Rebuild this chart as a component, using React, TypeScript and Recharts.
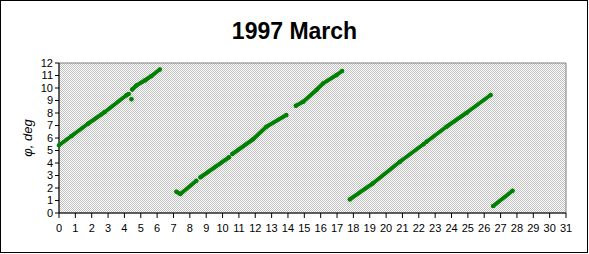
import React from 'react';
import { ScatterChart, Scatter, XAxis, YAxis, ReferenceArea } from 'recharts';

// day of month vs. phase angle (each run is a dense trail of samples)
const run1: [number, number][] = [[0, 5.42], [0.76, 6.16], [1.77, 7.14], [2.8, 8.08], [4.12, 9.42], [4.26, 9.52]];
const stray: [number, number][] = [[4.43, 9.1]];
const run2: [number, number][] = [[4.47, 9.88], [4.73, 10.2], [5.24, 10.6], [5.65, 10.96], [6.16, 11.48]];
const run3a: [number, number][] = [[7.18, 1.7], [7.42, 1.52], [8.4, 2.58]];
const run3b: [number, number][] = [[8.65, 2.86], [10.4, 4.46]];
const run3c: [number, number][] = [[10.6, 4.72], [11.87, 5.9], [12.68, 6.9], [13.9, 7.84]];
const run4: [number, number][] = [[14.48, 8.58], [14.93, 8.9], [15.74, 9.84], [16.15, 10.37], [16.97, 11.04], [17.31, 11.36]];
const run5a: [number, number][] = [[17.78, 1.09], [19.2, 2.38], [20.84, 4.1], [22.3, 5.52]];
const run5b: [number, number][] = [[22.47, 5.7], [23.69, 6.9], [24.92, 8.02], [26.39, 9.44]];
const run6: [number, number][] = [[26.55, 0.56], [27.73, 1.78]];

const runs = [run1, stray, run2, run3a, run3b, run3c, run4, run5a, run5b, run6];

const dayTicks = [0, 1, 2, 3, 4, 5, 6, 7, 8, 9, 10, 11, 12, 13, 14, 15, 16, 17, 18, 19, 20, 21, 22, 23, 24, 25, 26, 27, 28, 29, 30, 31];
const phiTicks = [0, 1, 2, 3, 4, 5, 6, 7, 8, 9, 10, 11, 12];

const GREEN = '#008000';
const FONT = '"Liberation Sans", Arial, sans-serif';

const Dot = (props: any) => <circle cx={props.cx} cy={props.cy} r={2.2} fill={GREEN} />;

export default function App() {
  return (
    <div style={{ position: 'absolute', left: 0, top: 0, width: 589, height: 254, background: '#fff' }}>
      <div
        style={{
          position: 'absolute', left: 0, top: 0, width: 588, height: 253,
          border: '1px solid #000', boxSizing: 'border-box'
        }}
      />
      <div
        style={{
          position: 'absolute', left: 0, top: 16, width: 589, textAlign: 'center',
          fontFamily: FONT, fontWeight: 'bold', fontSize: 23, lineHeight: '30px', color: '#000'
        }}
      >
        1997 March
      </div>
      <ScatterChart width={589} height={254} margin={{ top: 63, right: 23, left: 0, bottom: 21 }}>
        <defs>
          <pattern id="checker" width="2" height="2" patternUnits="userSpaceOnUse">
            <rect width="2" height="2" fill="#fff" />
            <rect width="1" height="1" fill="#c0c0c0" />
            <rect x="1" y="1" width="1" height="1" fill="#c0c0c0" />
          </pattern>
        </defs>
        <ReferenceArea x1={0} x2={31} y1={0} y2={12} fill="url(#checker)" fillOpacity={1} stroke="#808080" strokeWidth={1} />
        <XAxis
          type="number"
          dataKey="day"
          domain={[0, 31]}
          ticks={dayTicks}
          interval={0}
          height={20}
          tickSize={5}
          tickMargin={6}
          stroke="#000"
          tick={{ fill: '#000', fontSize: 11, fontFamily: FONT }}
        />
        <YAxis
          type="number"
          dataKey="phi"
          domain={[0, 12]}
          ticks={phiTicks}
          interval={0}
          width={59}
          tickSize={4}
          tickMargin={2}
          stroke="#000"
          tick={{ fill: '#000', fontSize: 11, fontFamily: FONT }}
          label={{
            value: 'φ, deg', angle: -90, position: 'center', dx: -2,
            style: { fill: '#000', fontSize: 13, fontStyle: 'italic', fontFamily: FONT }
          }}
        />
        {runs.map((run, i) => (
          <Scatter
            key={i}
            data={run.map(([day, phi]) => ({ day, phi }))}
            fill={GREEN}
            line={{ stroke: GREEN, strokeWidth: 4, strokeLinecap: 'round', strokeLinejoin: 'round' }}
            shape={Dot}
            isAnimationActive={false}
          />
        ))}
      </ScatterChart>
    </div>
  );
}
